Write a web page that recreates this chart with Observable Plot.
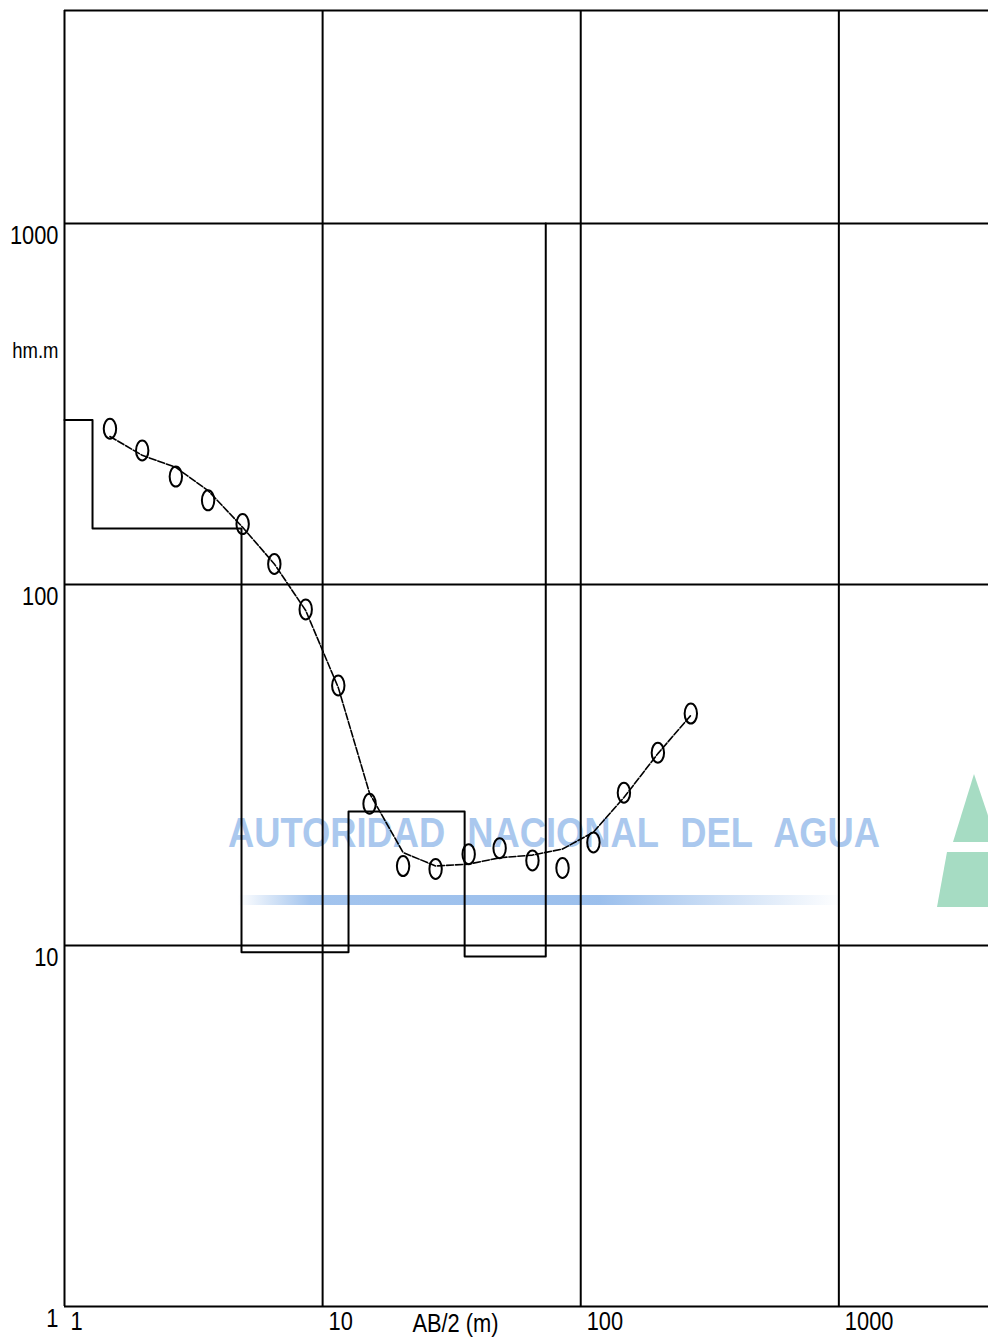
<!DOCTYPE html>
<html>
<head>
<meta charset="utf-8">
<script src="https://cdn.jsdelivr.net/npm/d3@7"></script>
<script src="https://cdn.jsdelivr.net/npm/@observablehq/plot@0.6"></script>
<style>
  body { margin: 0; background: #fff; }
  #wrap { position: relative; width: 988px; height: 1341px; overflow: hidden; background: #fff; }
  #wm { position: absolute; left: 0; top: 0; z-index: 0; }
  #chart { position: absolute; left: 0; top: 0; z-index: 1; }
</style>
</head>
<body>
<div id="wrap">
  <svg id="wm" width="988" height="1341">
    <defs>
      <linearGradient id="bar" x1="0" x2="1" y1="0" y2="0">
        <stop offset="0" stop-color="#7aaae6" stop-opacity="0"/>
        <stop offset="0.12" stop-color="#7aaae6" stop-opacity="0.7"/>
        <stop offset="0.6" stop-color="#7aaae6" stop-opacity="0.75"/>
        <stop offset="1" stop-color="#7aaae6" stop-opacity="0"/>
      </linearGradient>
    </defs>
    <text x="228" y="847" fill="#aac8ee" font-family="'Liberation Sans', Arial, sans-serif" font-weight="bold" font-size="42" textLength="652" lengthAdjust="spacingAndGlyphs" word-spacing="14">AUTORIDAD NACIONAL DEL AGUA</text>
    <rect x="238" y="895" width="604" height="10" fill="url(#bar)"/>
    <polygon points="974,774 953,842 997,842" fill="#a6dcc3"/>
    <polygon points="947,852 1003,852 1013,907 937,907" fill="#a6dcc3"/>
  </svg>
  <div id="chart"></div>
</div>
<script>
// AB/2 spacings (m) and measured apparent resistivity (ohm.m)
const abHalf = [1.5, 2, 2.7, 3.6, 4.9, 6.5, 8.6, 11.5, 15.2, 20.5, 27.4, 36.8, 48.5, 65, 85, 112, 147, 199, 267];
const rhoMeasured = [270, 235, 199, 171, 147, 114, 85.3, 52.5, 24.7, 16.6, 16.3, 17.9, 18.6, 17.2, 16.4, 19.3, 26.5, 34.2, 43.9];
// fitted (computed) sounding curve
const rhoFitted = [257, 228, 211, 182, 144, 114, 84.7, 51.8, 26.4, 18.1, 16.6, 16.8, 17.5, 17.8, 18.5, 20.6, 25.7, 34.0, 43.4];
// layered model: layer top depth (m) and resistivity (ohm.m)
const layerTop = [1, 1.284, 4.85, 12.6, 35.5, 73.2];
const layerRho = [285.5, 143, 9.58, 23.5, 9.32, 1000];
// axes
const xTicks = [1, 10, 100, 1000];
const yTicks = [1, 10, 100, 1000];
const gridValues = [10, 100, 1000];
const xLabel = "AB/2 (m)";
const yLabel = "hm.m";

const measured = abHalf.map((x, i) => ({x, y: rhoMeasured[i]}));
const fitted = abHalf.map((x, i) => ({x, y: rhoFitted[i]}));
const model = layerTop.map((x, i) => ({x, y: layerRho[i]}));

const ellipse = {
  draw(ctx, size) {
    const r = Math.sqrt(size / Math.PI);
    const rx = r * 0.62, ry = r, k = 0.5523;
    ctx.moveTo(rx, 0);
    ctx.bezierCurveTo(rx, k * ry, k * rx, ry, 0, ry);
    ctx.bezierCurveTo(-k * rx, ry, -rx, k * ry, -rx, 0);
    ctx.bezierCurveTo(-rx, -k * ry, -k * rx, -ry, 0, -ry);
    ctx.bezierCurveTo(k * rx, -ry, rx, -k * ry, rx, 0);
    ctx.closePath();
  }
};

const font = "'Liberation Sans', Arial, sans-serif";
const xMax = 3800, yMax = 3890;

const chart = Plot.plot({
  width: 988,
  height: 1341,
  marginLeft: 64,
  marginRight: 0,
  marginTop: 10,
  marginBottom: 35,
  style: {background: "transparent", fontFamily: font, fontSize: "26px", color: "#000"},
  x: {type: "log", domain: [1, xMax]},
  y: {type: "log", domain: [1, yMax]},
  marks: [
    // frame (top, left, bottom) and decade grid
    Plot.ruleY([yMax], {stroke: "#000", strokeWidth: 2}),
    Plot.ruleX([1], {stroke: "#000", strokeWidth: 2}),
    Plot.ruleY([1], {stroke: "#000", strokeWidth: 2}),
    Plot.ruleX(gridValues, {stroke: "#000", strokeWidth: 2}),
    Plot.ruleY(gridValues, {stroke: "#000", strokeWidth: 2}),
    // layered model
    Plot.line(model, {x: "x", y: "y", curve: "step-after", stroke: "#000", strokeWidth: 2}),
    // fitted curve
    Plot.line(fitted, {x: "x", y: "y", stroke: "#000", strokeWidth: 1.6, strokeDasharray: "7,2"}),
    // measured points
    Plot.dot(measured, {x: "x", y: "y", symbol: ellipse, r: 10, stroke: "#000", strokeWidth: 2, fill: "none"}),
    // axes
    Plot.axisY(yTicks, {tickSize: 0, tickPadding: 6, textAnchor: "end", dy: 12, label: null, tickFormat: d => String(d), fontSize: 26}),
    Plot.axisX(xTicks, {tickSize: 0, tickPadding: 5, textAnchor: "start", dx: 6, label: null, tickFormat: d => String(d), fontSize: 26}),
    Plot.text([xLabel], {frameAnchor: "bottom", dx: -71, dy: 17, text: d => d, fontSize: 26, lineAnchor: "middle"}),
    Plot.text([yLabel], {frameAnchor: "top-left", dx: -6, dy: 340, textAnchor: "end", text: d => d, fontSize: 22, lineAnchor: "middle"})
  ]
});
document.getElementById("chart").appendChild(chart);
// condense the labels like the narrow plotter lettering
chart.querySelectorAll("text").forEach(t => {
  const w = t.getComputedTextLength();
  if (w > 0) {
    t.setAttribute("textLength", (w * 0.84).toFixed(1));
    t.setAttribute("lengthAdjust", "spacingAndGlyphs");
  }
});
</script>
</body>
</html>
